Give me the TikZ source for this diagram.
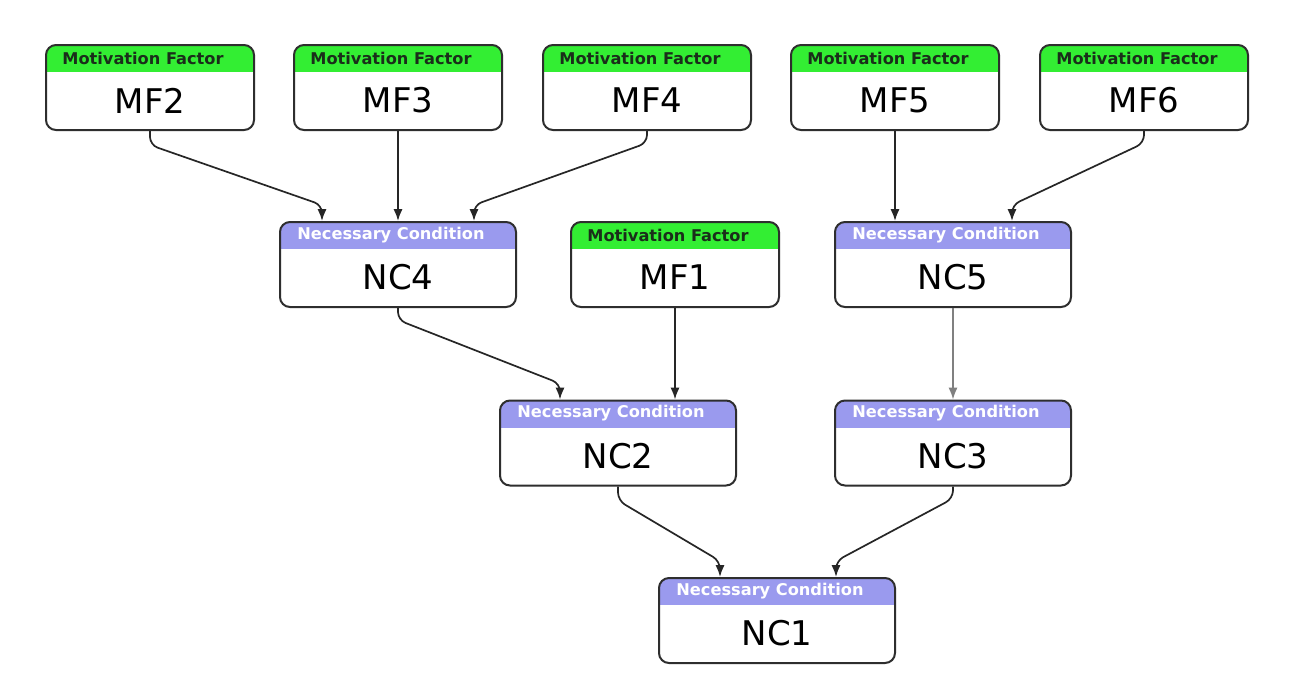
\documentclass[tikz,border=0pt]{standalone}
\usepackage{fontspec}
\setmainfont{DejaVu Sans}
\usetikzlibrary{calc,arrows.meta}
\definecolor{mfgreen}{HTML}{33EE33}
\definecolor{nclav}{HTML}{9A9AEE}
\definecolor{boxline}{HTML}{2E2E2E}
\definecolor{hdrdark}{HTML}{1A2E1A}
\tikzset{
  box/.style={draw=boxline, line width=1pt, rounded corners=5pt, fill=white,
    minimum height=42.5pt, inner sep=0pt},
  mfbox/.style={box, minimum width=104pt,
    path picture={\fill[mfgreen, sharp corners] (path picture bounding box.north west) rectangle ([yshift=-13.5pt]path picture bounding box.north east);}},
  ncbox/.style={box, minimum width=118pt,
    path picture={\fill[nclav, sharp corners] (path picture bounding box.north west) rectangle ([yshift=-13.5pt]path picture bounding box.north east);}},
  hdrmf/.style={font=\fontsize{8.1}{9}\selectfont\bfseries, text=hdrdark, inner sep=0pt, anchor=west},
  hdrnc/.style={font=\fontsize{8.1}{9}\selectfont\bfseries, text=white, inner sep=0pt, anchor=west},
  lbl/.style={font=\fontsize{17}{19}\selectfont, text=black, inner sep=0pt},
  edge/.style={draw=black!85, line width=0.85pt, rounded corners=4pt, -{Latex[length=6pt,width=4.6pt]}},
}
\newcommand\mfnode[3]{%
  \node[mfbox] (#1) at (#2,#3) {};
  \node[hdrmf] (#1h) at ([xshift=8.5pt,yshift=-7pt]#1.north west) {Motivation Factor};
  \node[lbl] (#1t) at ([yshift=-6.5pt]#1.center) {#1};
}
\newcommand\ncnode[3]{%
  \node[ncbox] (#1) at (#2,#3) {};
  \node[hdrnc] (#1h) at ([xshift=9pt,yshift=-7pt]#1.north west) {Necessary Condition};
  \node[lbl] (#1t) at ([yshift=-6.5pt]#1.center) {#1};
}
\begin{document}
\begin{tikzpicture}[x=0.5pt,y=-0.5pt]
\useasboundingbox[fill=white] (0,0) rectangle (1289,697);
% top row
\mfnode{MF2}{150}{87.5}
\mfnode{MF3}{398}{87.5}
\mfnode{MF4}{647}{87.5}
\mfnode{MF5}{895}{87.5}
\mfnode{MF6}{1144}{87.5}
% second row
\ncnode{NC4}{398}{264.5}
\mfnode{MF1}{675}{264.5}
\ncnode{NC5}{953}{264.5}
% third row
\ncnode{NC2}{618}{443}
\ncnode{NC3}{953}{443}
% bottom
\ncnode{NC1}{777}{620.5}
% edges
\draw[edge] (MF2.south) -- ++(0,14) -- ($(NC4.north)+(-76,-16)$) -- ($(NC4.north)+(-76,0)$);
\draw[edge] (MF3.south) -- (NC4.north);
\draw[edge] (MF4.south) -- ++(0,12) -- ($(NC4.north)+(76,-16)$) -- ($(NC4.north)+(76,0)$);
\draw[edge] (MF5.south) -- (MF5.south |- NC5.north);
\draw[edge] (MF6.south) -- ++(0,12) -- ($(NC5.north)+(59,-16)$) -- ($(NC5.north)+(59,0)$);
\draw[edge] (NC4.south) -- ++(0,12) -- ($(NC2.north)+(-58,-16)$) -- ($(NC2.north)+(-58,0)$);
\draw[edge] (MF1.south) -- (MF1.south |- NC2.north);
\draw[edge, draw=black!50] (NC5.south) -- (NC3.north);
\draw[edge] (NC2.south) -- ++(0,14) -- ($(NC1.north)+(-57,-16)$) -- ($(NC1.north)+(-57,0)$);
\draw[edge] (NC3.south) -- ++(0,12) -- ($(NC1.north)+(59,-16)$) -- ($(NC1.north)+(59,0)$);
\end{tikzpicture}
\end{document}
